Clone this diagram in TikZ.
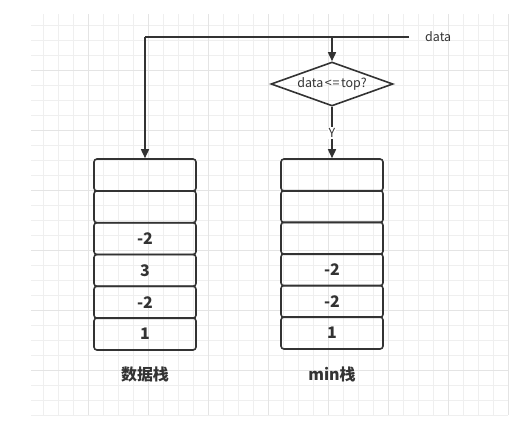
\documentclass[tikz,border=0pt]{standalone}
\usepackage{fontspec}
\setmainfont{Noto Sans CJK SC}
\usetikzlibrary{shapes.geometric,arrows.meta}
\definecolor{ink}{HTML}{333333}
\definecolor{gridminor}{HTML}{EFEFEF}
\definecolor{gridmajor}{HTML}{E4E4E4}
\tikzset{
  cell/.style={draw=ink, line width=1.6bp, rounded corners=3bp, minimum width=102bp, minimum height=32bp, inner sep=0pt, font=\fontsize{16}{18}\selectfont\bfseries, text=ink},
  decision/.style={draw=ink, line width=1.6bp, diamond, aspect=2.77, minimum width=122bp, minimum height=44bp, inner sep=0pt, font=\fontsize{12.5}{14}\selectfont, text=ink},
  conn/.style={draw=ink, line width=1.6bp},
  arr/.style={conn, -{Triangle[length=9bp,width=8bp]}},
  caption/.style={font=\fontsize{16}{18}\selectfont\bfseries, text=ink},
  smalltext/.style={font=\fontsize{12.5}{14}\selectfont, text=ink, inner sep=1bp}
}
\begin{document}
\begin{tikzpicture}[x=1bp,y=-1bp]
\useasboundingbox (0,0) rectangle (531,420);
\fill[white] (0,0) rectangle (531,420);
% grid
\foreach \x in {43,58,...,508} {\draw[gridminor, line width=0.8bp] (\x,14) -- (\x,415);}
\foreach \y in {25,40,...,415} {\draw[gridminor, line width=0.8bp] (31,\y) -- (508,\y);}
\foreach \x in {88,148,...,508} {\draw[gridmajor, line width=0.8bp] (\x,14) -- (\x,415);}
\foreach \y in {70,130,...,415} {\draw[gridmajor, line width=0.8bp] (31,\y) -- (508,\y);}
% left stack
\node[cell] (L1) at (145,175) {};
\node[cell] (L2) at (145,206.8) {};
\node[cell] (L3) at (145,238.6) {-2};
\node[cell] (L4) at (145,270.4) {3};
\node[cell] (L5) at (145,302.2) {-2};
\node[cell] (L6) at (145,334) {1};
% right stack
\node[cell] (R1) at (332,175) {};
\node[cell] (R2) at (332,206.6) {};
\node[cell] (R3) at (332,238.2) {};
\node[cell] (R4) at (332,269.8) {-2};
\node[cell] (R5) at (332,301.4) {-2};
\node[cell] (R6) at (332,333) {1};
\node[caption] (capL) at (145,374) {数据栈};
\node[caption] (capR) at (332,374) {min栈};
% decision
\node[decision] (D) at (332,84) {data\kern1.5bp<\kern1bp=\kern1.5bp top?};
\node[smalltext, anchor=west] (data) at (424,37) {data};
\coordinate (inEnd) at (409,37);
\coordinate (corner) at (145,37);
\coordinate (junction) at (332,37);
\draw[conn] (inEnd) -- (corner);
\draw[arr] (corner) -- (L1.north);
\draw[arr] (junction) -- (D.north);
\node[smalltext, fill=white] (Y) at (332,133) {Y};
\draw[conn] (D.south) -- (Y.north);
\draw[arr] (Y.south) -- (R1.north);
\end{tikzpicture}
\end{document}
